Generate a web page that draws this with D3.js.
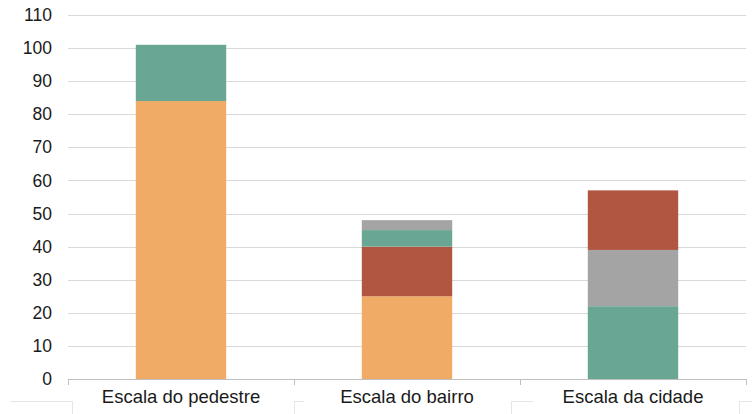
<!DOCTYPE html>
<html>
<head>
<meta charset="utf-8">
<script src="https://cdn.jsdelivr.net/npm/d3@7"></script>
<style>
body{margin:0;background:#fff;}
text{font-family:"Liberation Sans",Arial,sans-serif;fill:#1a1a1a;}
</style>
</head>
<body>
<svg id="chart" width="752" height="414"></svg>
<script>
var categories = ["Escala do pedestre", "Escala do bairro", "Escala da cidade"];
// stack order bottom -> top
var seriesKeys = ["laranja", "vermelho1", "verde", "cinza", "vermelho2"];
var laranja   = [84, 25, 0];
var vermelho1 = [0, 15, 0];
var verde     = [17, 5, 22];
var cinza     = [0, 3, 17];
var vermelho2 = [0, 0, 18];
var yTicks = [0,10,20,30,40,50,60,70,80,90,100,110];

var colors = {laranja:"#f0ab66", vermelho1:"#b05641", verde:"#69a693", cinza:"#a4a4a4", vermelho2:"#b05641"};

var rows = categories.map(function(c,i){
	return {cat:c, laranja:laranja[i], vermelho1:vermelho1[i], verde:verde[i], cinza:cinza[i], vermelho2:vermelho2[i]};
});

var svg = d3.select("#chart");
var plotLeft = 68, plotRight = 746, plotTop = 15, plotBottom = 379;

var x = d3.scaleBand().domain(categories).range([plotLeft, plotRight]).paddingInner(0.6).paddingOuter(0.3);
var y = d3.scaleLinear().domain([0,110]).range([plotBottom, plotTop]);

// gridlines
svg.append("g").selectAll("line").data(yTicks.slice(1)).enter().append("line")
	.attr("x1", plotLeft).attr("x2", plotRight)
	.attr("y1", function(d){ return Math.round(y(d))+0.5; })
	.attr("y2", function(d){ return Math.round(y(d))+0.5; })
	.attr("stroke", "#d9d9d9").attr("stroke-width", 1);

// y labels
svg.append("g").selectAll("text").data(yTicks).enter().append("text")
	.attr("x", 52).attr("y", function(d){ return y(d); })
	.attr("dy", "0.35em").attr("text-anchor", "end")
	.style("font-size", "17.5px")
	.text(function(d){ return d; });

// bars
var stack = d3.stack().keys(seriesKeys)(rows);
svg.append("g").selectAll("g").data(stack).enter().append("g")
	.attr("fill", function(s){ return colors[s.key]; })
	.selectAll("rect").data(function(s){ return s; }).enter().append("rect")
	.filter(function(d){ return d[1] > d[0]; })
	.attr("x", function(d){ return x(d.data.cat); })
	.attr("width", x.bandwidth())
	.attr("y", function(d){ return y(d[1]); })
	.attr("height", function(d){ return y(d[0]) - y(d[1]); });

// x axis
var xAxis = svg.append("g");
xAxis.append("line").attr("x1", plotLeft).attr("x2", plotRight)
	.attr("y1", plotBottom+0.5).attr("y2", plotBottom+0.5)
	.attr("stroke", "#bfbfbf");
var bounds = categories.map(function(c){ return x(c) - x.step()*x.paddingOuter(); });
bounds.push(plotRight);
xAxis.selectAll("line.tick").data(bounds).enter().append("line")
	.attr("class", "tick")
	.attr("x1", function(d){ return Math.round(d)+0.5; })
	.attr("x2", function(d){ return Math.round(d)+0.5; })
	.attr("y1", plotBottom).attr("y2", plotBottom+6)
	.attr("stroke", "#bfbfbf");
xAxis.selectAll("text").data(categories).enter().append("text")
	.attr("x", function(d){ return x(d) + x.bandwidth()/2; })
	.attr("y", 403)
	.attr("text-anchor", "middle")
	.style("font-size", "18.5px")
	.text(function(d){ return d; });

// faint table borders under the labels
var faint = [[10,401.5,72,401.5],[72.5,401,72.5,414],[294.5,401,294.5,414],[294,401.5,304,401.5],
	[511.5,401,511.5,414],[511,401.5,533,401.5],[739.5,401,739.5,414],[739,401.5,752,401.5]];
svg.append("g").selectAll("line").data(faint).enter().append("line")
	.attr("x1", function(d){ return d[0]; }).attr("y1", function(d){ return d[1]; })
	.attr("x2", function(d){ return d[2]; }).attr("y2", function(d){ return d[3]; })
	.attr("stroke", "#e6e6e6");
</script>
</body>
</html>
